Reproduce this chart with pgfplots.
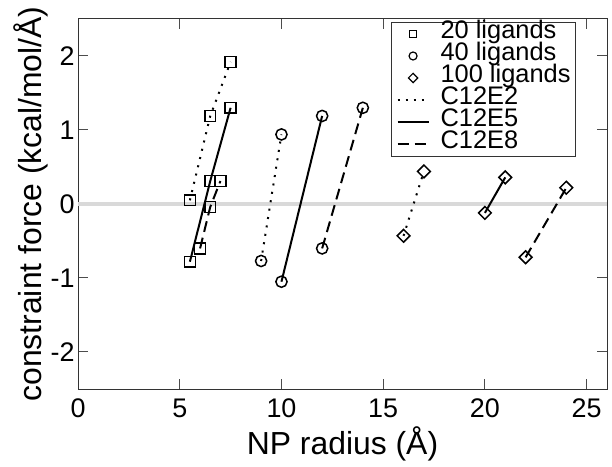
\documentclass[border=0pt]{standalone}
\usepackage{fontspec}
\setmainfont{Liberation Sans}
\usepackage{pgfplots}
\pgfplotsset{compat=1.18}
\begin{document}
\begin{tikzpicture}
\useasboundingbox (0,0) rectangle (612bp,467bp);
\begin{axis}[
  at={(78bp,78bp)}, anchor=south west,
  scale only axis, width=529bp, height=370bp,
  xmin=0, xmax=26, ymin=-2.5, ymax=2.5,
  xtick={0,5,10,15,20,25},
  ytick={-2,-1,0,1,2},
  yticklabels={-2,-1,0,1,2},
  xticklabels={0,5,10,15,20,25},
  tick align=inside, major tick length=10bp,
  minor tick num=0,
  axis line style={line width=1bp, black!80},
  every tick/.style={line width=1bp, black!70},
  ticklabel style={font=\fontsize{27}{27}\selectfont},
  xticklabel style={yshift=-6bp},
  xlabel={NP radius (Å)},
  ylabel={constraint force (kcal/mol/Å)},
  label style={font=\fontsize{32}{32}\selectfont},
  xlabel style={yshift=-2bp},
  ylabel style={yshift=-4bp},
  legend cell align=left,
  legend style={at={(0.592,0.993)}, anchor=north west, draw=black!80, line width=0.8bp,
    font=\fontsize{25.5}{25.5}\selectfont, row sep=0bp, inner xsep=5bp, inner ysep=1bp,
    nodes={inner sep=0pt, text height=16bp, text depth=6bp},
    /tikz/every odd column/.style={column sep=11bp}},
  legend image code/.code={\draw[#1, mark repeat=2, mark phase=2]
    plot coordinates {(0bp,0bp) (15.5bp,0bp) (31bp,0bp)};},
]
% zero reference line
\addplot[forget plot, black!15, line width=4bp] coordinates {(0,0) (26,0)};

% legend-only entries
\addlegendimage{only marks, mark=square, mark size=3.8bp, line width=1.2bp}
\addlegendentry{20 ligands}
\addlegendimage{only marks, mark=o, mark size=4bp, line width=1.2bp}
\addlegendentry{40 ligands}
\addlegendimage{only marks, mark=square, mark size=3.3bp, mark options={rotate=45}, line width=1.2bp}
\addlegendentry{100 ligands}
\addlegendimage{black, line width=2bp, dash pattern=on 2bp off 6bp}
\addlegendentry{C12E2}
\addlegendimage{black, line width=2bp}
\addlegendentry{C12E5}
\addlegendimage{black, line width=2bp, dash pattern=on 11bp off 6bp}
\addlegendentry{C12E8}

% 20 ligands
\addplot[forget plot, black, line width=2bp, dash pattern=on 2bp off 6.5bp,
  mark=square, mark size=5.4bp, mark options={solid, line width=1.5bp}]
  coordinates {(5.5,0.05) (6.5,1.19) (7.5,1.92)};
\addplot[forget plot, black, line width=2bp,
  mark=square, mark size=5.4bp, mark options={solid, line width=1.5bp}]
  coordinates {(5.5,-0.78) (6.5,0.31) (7.5,1.30)};
\addplot[forget plot, black, line width=2bp, dash pattern=on 11bp off 6bp,
  mark=square, mark size=5.4bp, mark options={solid, line width=1.5bp}]
  coordinates {(6.0,-0.60) (6.5,-0.04) (7.0,0.31)};

% 40 ligands
\addplot[forget plot, black, line width=2bp, dash pattern=on 2bp off 6.5bp,
  mark=o, mark size=5.6bp, mark options={solid, line width=1.5bp}]
  coordinates {(9,-0.77) (10,0.94)};
\addplot[forget plot, black, line width=2bp,
  mark=o, mark size=5.6bp, mark options={solid, line width=1.5bp}]
  coordinates {(10,-1.05) (12,1.19)};
\addplot[forget plot, black, line width=2bp, dash pattern=on 11bp off 6bp,
  mark=o, mark size=5.6bp, mark options={solid, line width=1.5bp}]
  coordinates {(12,-0.60) (14,1.30)};

% 100 ligands
\addplot[forget plot, black, line width=2bp, dash pattern=on 2bp off 6.5bp,
  mark=square, mark size=4.5bp, mark options={solid, rotate=45, line width=1.5bp}]
  coordinates {(16,-0.43) (17,0.44)};
\addplot[forget plot, black, line width=2bp,
  mark=square, mark size=4.5bp, mark options={solid, rotate=45, line width=1.5bp}]
  coordinates {(20,-0.12) (21,0.36)};
\addplot[forget plot, black, line width=2bp, dash pattern=on 11bp off 6bp,
  mark=square, mark size=4.5bp, mark options={solid, rotate=45, line width=1.5bp}]
  coordinates {(22,-0.72) (24,0.22)};
\end{axis}
\end{tikzpicture}
\end{document}
